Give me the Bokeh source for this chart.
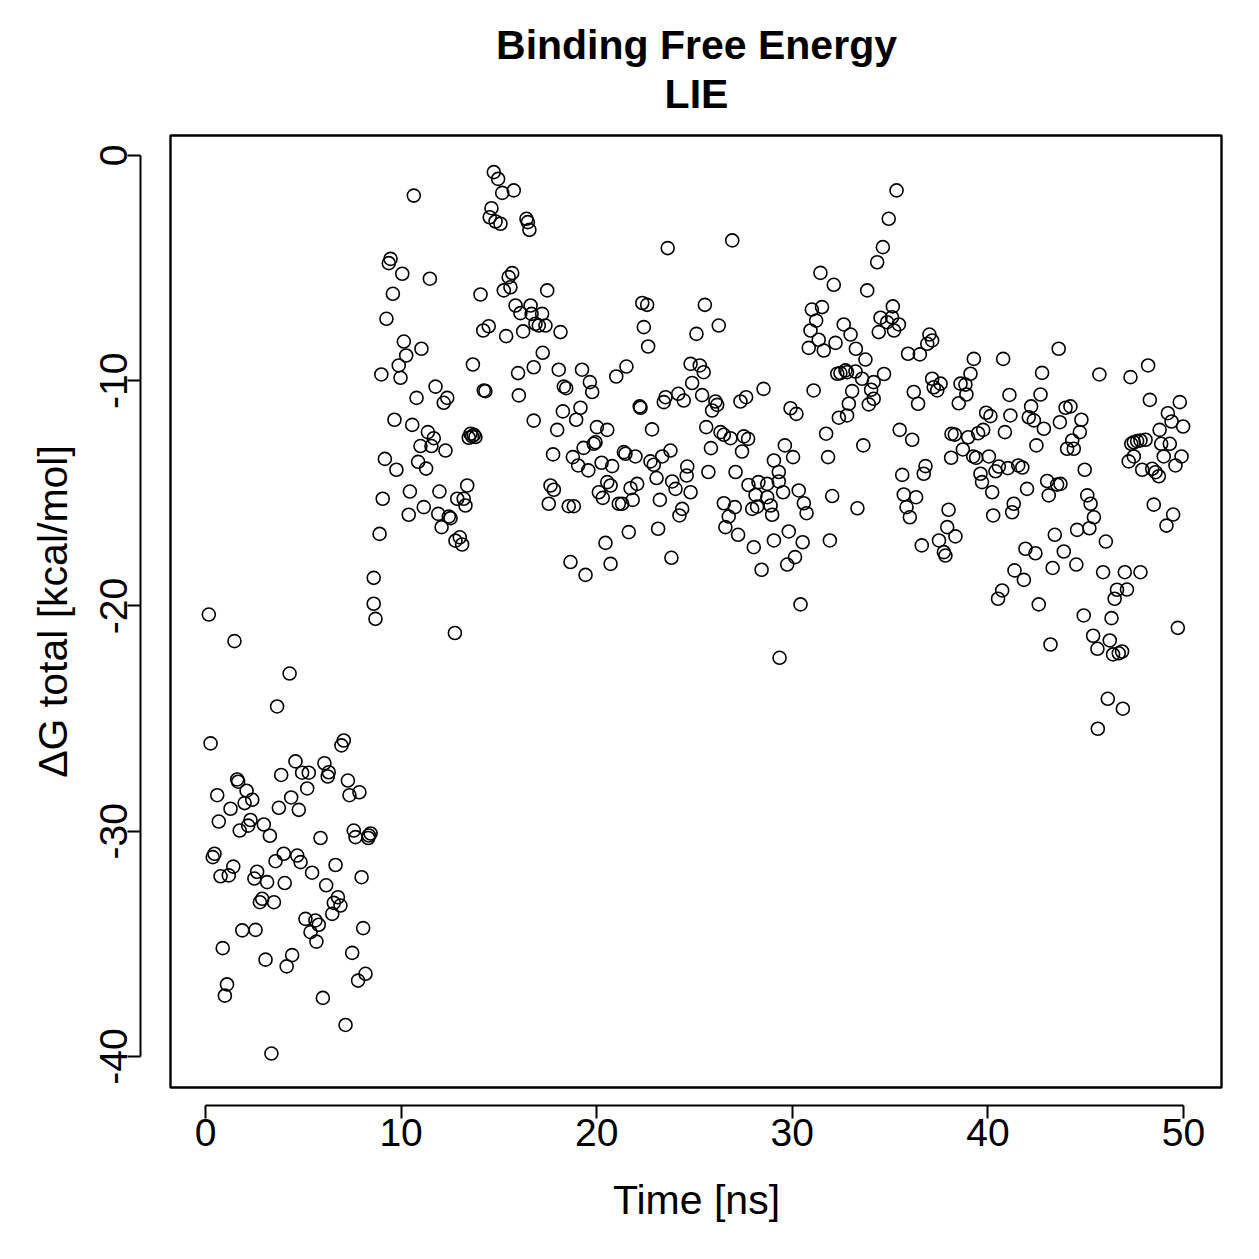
from bokeh.plotting import figure
from bokeh.models import Range1d, FixedTicker, BoxAnnotation, Title
from bokeh.embed import file_html
from bokeh.resources import INLINE

# ---- data ----
time_ns = [
    0.17, 1.48, 4.3, 3.66, 0.26, 4.6, 3.87, 1.62, 1.67, 2.1, 0.6, 2.39, 2.0, 1.28, 3.75, 4.38,
    0.68, 2.3, 2.18, 1.75, 2.98, 3.29, 0.46, 0.37, 1.42, 1.19, 0.77, 4.0, 3.58, 2.64, 2.5, 3.15,
    4.05, 2.9, 2.78, 3.5, 1.88, 2.56, 0.88, 3.07, 4.43, 4.15, 1.1, 0.99, 3.37,
    8.6, 8.6, 8.69, 7.07, 6.95, 4.94, 5.28, 6.08, 6.3, 6.25, 5.2, 7.28, 7.36, 7.87, 4.77, 5.88,
    7.58, 7.67, 8.35, 8.44, 8.32, 4.69, 4.86, 6.65, 5.45, 7.98, 6.17, 6.77, 6.9, 6.56, 6.48,
    5.11, 5.62, 5.79, 5.37, 8.06, 5.67, 7.5, 8.18, 7.8, 6.0, 7.16,
    10.65, 9.46, 9.37, 10.06, 11.47, 9.58, 9.25, 10.14, 11.04, 10.26, 9.88, 9.97, 8.99, 11.76,
    10.79, 12.36, 12.18, 9.66, 10.57, 11.37, 11.67, 10.99, 11.55, 12.27, 9.17, 9.76, 10.87,
    11.28, 9.06, 10.45, 11.96, 11.16, 10.39, 11.9, 12.44, 12.53, 12.07, 8.9, 12.75,
    14.74, 14.96, 15.17, 15.76, 14.62, 14.53, 14.83, 15.08, 16.41, 16.48, 16.56, 15.68, 15.5,
    15.59, 15.25, 14.06, 15.85, 16.1, 16.62, 16.67, 16.87, 14.2, 14.48, 15.37, 16.24, 13.67,
    15.98, 16.78, 16.02, 14.23, 14.31, 16.78, 13.55, 13.63, 13.72, 13.8, 13.46, 13.38, 12.87,
    13.2, 13.29, 13.0, 13.12, 12.78,
    17.47, 17.21, 17.04, 17.38, 18.15, 17.24, 18.06, 19.25, 19.65, 19.77, 18.32, 18.44, 18.27,
    19.17, 18.95, 17.98, 20.01, 20.54, 19.94, 19.85, 17.77, 19.33, 18.78, 19.05, 19.57, 20.25,
    20.79, 20.54, 20.71, 20.11, 20.31, 17.64, 17.81, 17.55, 18.57, 18.83, 20.45, 18.66, 19.43,
    20.71,
    23.63, 22.33, 22.58, 22.41, 22.63, 21.52, 21.0, 24.8, 24.88, 23.52, 23.43, 24.17, 24.45,
    22.2, 22.24, 22.83, 21.39, 21.47, 21.98, 22.75, 22.92, 23.35, 23.77, 24.63, 24.6, 23.06,
    23.86, 24.03, 21.73, 22.07, 24.8, 21.13, 21.3, 21.84, 23.23, 24.37, 24.23, 21.64, 23.14,
    23.82,
    26.93, 25.53, 26.24, 25.1, 25.27, 25.47, 25.39, 26.07, 26.16, 25.9, 27.35, 27.64, 28.53,
    25.6, 26.33, 26.5, 26.84, 27.52, 27.74, 27.43, 25.84, 25.71, 27.1, 29.06, 29.31, 27.76,
    28.27, 28.72, 28.12, 28.72, 27.95, 28.2, 28.89, 28.97, 26.5, 27.06, 26.75, 26.58, 27.23,
    28.03, 29.06, 28.43, 29.35,
    31.44, 32.12, 31.0, 31.52, 31.22, 30.93, 31.35, 30.84, 31.61, 32.21, 32.63, 32.98, 33.25,
    32.3, 32.46, 32.72, 32.8, 33.06, 32.89, 32.38, 32.8, 31.09, 29.91, 30.21, 31.73, 29.62,
    30.04, 31.83, 29.31, 29.53, 30.33, 30.59, 30.73, 32.04, 33.33, 29.82, 30.53, 31.92, 30.14,
    29.74, 30.42,
    35.33, 34.93, 34.63, 34.34, 33.83, 35.14, 34.51, 34.85, 35.1, 35.45, 35.2, 34.42, 37.01,
    36.9, 37.15, 35.92, 36.52, 33.74, 33.23, 33.57, 34.16, 34.03, 34.16, 33.91, 34.69, 36.21,
    36.43, 37.15, 37.23, 35.49, 36.13, 33.63, 36.81, 36.72, 35.62, 35.7, 36.33, 35.84, 36.01,
    36.62, 37.5,
    39.28, 40.78, 39.11, 37.58, 37.41, 38.6, 38.85, 38.9, 38.51, 41.1, 39.91, 40.13, 41.15,
    38.14, 38.31, 38.99, 39.5, 39.76, 40.87, 38.72, 39.25, 39.4, 40.05, 38.12, 39.62, 39.7,
    40.22, 40.56, 40.39, 41.02, 41.55, 40.27, 41.32, 41.24, 37.99, 37.92, 38.34, 37.75, 37.83,
    41.36, 40.73, 40.52,
    43.62, 42.77, 45.7, 42.69, 42.21, 42.09, 42.35, 42.86, 43.97, 44.22, 43.68, 44.78, 44.7,
    44.31, 44.05, 44.39, 42.48, 41.76, 44.95, 43.03, 43.54, 43.71, 43.11, 42.0, 45.08, 45.25,
    45.42, 44.56, 45.19, 43.42, 41.92, 42.43, 43.88, 44.52, 43.31, 41.84, 42.6, 44.9, 43.2,
    45.38, 45.6,
    47.29, 48.19, 48.28, 49.81, 49.2, 49.39, 49.98, 48.78, 47.46, 47.63, 47.8, 48.06, 47.33,
    48.86, 49.3, 47.46, 47.2, 47.89, 48.4, 48.57, 48.74, 48.99, 49.9, 49.59, 48.48, 49.47,
    49.13, 46.03, 45.89, 47.0, 47.8, 46.6, 47.11, 46.48, 46.32, 49.71, 46.23, 46.4, 46.69,
    46.86, 46.13, 46.9, 45.62,
]

dg_total = [
    -20.38, -21.56, -23.0, -24.46, -26.1, -26.9, -27.5, -27.7, -27.8, -28.2, -28.4, -28.6,
    -28.75, -29.0, -28.96, -28.5, -29.57, -29.5, -29.75, -29.97, -29.7, -30.2, -31.0, -31.15,
    -31.57, -31.96, -32.0, -31.0, -31.33, -31.8, -32.1, -32.26, -32.3, -33.0, -33.15, -33.15,
    -34.4, -34.38, -35.19, -35.7, -35.5, -36.0, -36.8, -37.3, -39.87,
    -18.75, -19.9, -20.57, -25.97, -26.19, -27.4, -27.4, -26.98, -27.38, -27.57, -28.1, -27.75,
    -28.4, -28.27, -29.05, -30.3, -29.97, -30.26, -30.19, -30.1, -30.3, -31.08, -31.37, -31.5,
    -31.84, -32.04, -32.4, -32.93, -33.3, -33.18, -33.67, -33.89, -33.96, -34.15, -34.48, -34.3,
    -34.9, -35.4, -36.33, -36.63, -37.4, -38.6,
    -1.78, -4.59, -4.78, -5.25, -5.47, -6.14, -7.25, -8.26, -8.58, -8.88, -9.32, -9.87, -9.72,
    -10.26, -10.76, -10.76, -10.98, -11.73, -11.96, -12.28, -12.55, -12.9, -12.9, -13.1, -13.47,
    -13.95, -13.6, -13.9, -15.24, -14.92, -14.92, -15.61, -15.95, -15.91, -16.03, -16.1, -16.5,
    -16.8, -21.2,
    -0.74, -1.04, -1.66, -1.55, -2.34, -2.74, -2.93, -3.03, -2.81, -2.96, -3.3, -5.22, -5.4,
    -5.85, -5.99, -6.17, -6.66, -7.0, -6.66, -7.03, -7.47, -7.77, -7.58, -8.02, -7.81, -9.28,
    -9.66, -9.4, -10.65, -10.43, -10.46, -11.77, -12.35, -12.47, -12.4, -12.5, -12.53, -14.65,
    -15.24, -15.24, -15.54, -16.95, -17.27, -17.1,
    -5.99, -7.03, -7.55, -7.55, -7.84, -8.76, -9.51, -9.51, -10.06, -10.5, -10.26, -10.33,
    -11.36, -11.2, -11.73, -12.18, -12.06, -12.18, -12.73, -12.8, -13.27, -12.98, -13.39,
    -13.76, -13.98, -13.64, -13.79, -14.5, -14.65, -14.95, -15.2, -14.65, -14.84, -15.46,
    -15.57, -15.57, -17.2, -18.05, -18.62, -18.13,
    -4.11, -6.55, -6.63, -7.62, -8.48, -9.37, -9.81, -9.25, -10.1, -10.73, -10.95, -10.58,
    -10.88, -11.14, -11.2, -12.16, -13.17, -13.24, -13.36, -13.58, -13.73, -13.36, -13.1,
    -13.81, -14.21, -14.32, -14.47, -14.8, -14.77, -14.58, -14.95, -15.46, -15.46, -15.29,
    -15.29, -15.69, -15.98, -16.72, -16.57, -17.86,
    -3.77, -6.63, -7.55, -7.92, -9.32, -9.62, -10.64, -10.92, -11.07, -11.32, -10.92, -10.73,
    -10.36, -12.06, -12.28, -12.4, -12.55, -12.47, -12.58, -13.14, -12.99, -14.05, -14.05,
    -13.54, -14.05, -14.63, -14.5, -14.58, -15.07, -15.17, -15.69, -15.59, -15.54, -15.95,
    -15.44, -15.61, -16.03, -16.5, -16.84, -17.39, -17.09, -18.39, -22.3,
    -5.21, -5.74, -6.84, -6.73, -7.33, -7.77, -8.18, -8.54, -8.66, -8.32, -7.5, -7.95, -8.58,
    -9.69, -9.66, -9.54, -9.62, -10.46, -11.02, -11.64, -11.54, -10.43, -11.22, -11.47, -12.35,
    -12.87, -13.39, -13.39, -14.47, -14.95, -14.87, -15.44, -15.88, -15.12, -15.66, -16.69,
    -17.17, -17.09, -17.83, -18.16, -19.93,
    -1.55, -2.81, -4.07, -4.74, -5.99, -6.7, -7.2, -7.4, -7.18, -7.5, -7.77, -7.84, -7.95,
    -8.36, -8.21, -8.8, -8.83, -9.06, -9.59, -9.91, -10.06, -10.4, -10.8, -11.05, -9.7, -10.5,
    -11.02, -9.91, -10.29, -12.18, -12.62, -12.87, -13.79, -14.13, -14.18, -15.05, -15.17,
    -15.61, -16.06, -17.31, -17.09,
    -9.03, -9.03, -9.69, -10.13, -10.43, -10.13, -10.17, -10.61, -11.0, -10.63, -11.42, -11.57,
    -11.54, -12.36, -12.39, -12.51, -12.33, -12.18, -12.28, -13.05, -13.36, -13.42, -13.36,
    -13.42, -14.13, -14.5, -14.95, -13.81, -14.02, -13.88, -13.76, -15.98, -15.46, -15.84,
    -15.73, -16.5, -16.91, -17.61, -17.76, -18.42, -19.31, -19.68,
    -8.58, -9.65, -9.72, -10.61, -11.14, -11.62, -11.76, -12.13, -11.2, -11.14, -11.84, -11.73,
    -12.28, -12.65, -13.02, -13.02, -12.87, -13.85, -13.95, -14.45, -14.61, -14.58, -15.09,
    -14.8, -15.09, -15.46, -16.06, -16.62, -16.55, -16.84, -17.46, -17.66, -17.58, -18.16,
    -18.31, -18.84, -19.93, -20.42, -21.71, -21.32, -21.9,
    -9.84, -9.32, -10.85, -10.95, -11.44, -11.81, -12.03, -12.18, -12.73, -12.68, -12.65,
    -12.62, -12.8, -12.8, -12.8, -13.36, -13.58, -13.95, -13.91, -14.06, -14.24, -13.36, -13.36,
    -13.76, -15.5, -15.94, -16.43, -17.14, -18.5, -18.5, -18.5, -19.28, -19.27, -19.68, -20.54,
    -20.97, -21.53, -22.15, -22.1, -22.02, -24.12, -24.56, -25.45,
]

x_ticks = [0, 10, 20, 30, 40, 50]
y_ticks = [-40, -30, -20, -10, 0]
y_tick_labels = ["-40", "-30", "-20", "-10", "0"]
title_main = "Binding Free Energy"
title_sub = "LIE"
x_label = "Time [ns]"
y_label = "\u0394G total [kcal/mol]"

FONT = "Liberation Sans"

# ---- figure geometry (pixel layout of the reference) ----
# The frame spans from the detached axes to a box symmetric about the R plot box,
# so that axis labels and titles centre on the plot box. The box itself is an annotation.
p = figure(
    width=1259, height=1259, title=None,
    x_range=Range1d(-3.323, 53.528), y_range=Range1d(-42.176, 1.687),
    min_border_left=140, min_border_right=7, min_border_top=117, min_border_bottom=154,
    output_backend="svg", toolbar_location=None,
)
p.outline_line_color = None
p.grid.visible = False
p.background_fill_color = "white"
p.border_fill_color = "white"

box = BoxAnnotation(left=-1.789, right=51.943, top=0.888, bottom=-41.376,
                    fill_alpha=0, fill_color=None, line_color="black",
                    line_alpha=1.0, line_width=2.4)
p.add_layout(box)

for ax in (p.xaxis[0], p.yaxis[0]):
    ax.axis_line_color = "black"
    ax.axis_line_width = 2
    ax.major_tick_line_color = "black"
    ax.major_tick_line_width = 2
    ax.major_tick_out = 13
    ax.major_tick_in = 0
    ax.minor_tick_line_color = None
    ax.major_label_text_font = FONT
    ax.major_label_text_font_size = "39px"
    ax.major_label_text_color = "black"
    ax.axis_label_text_font = FONT
    ax.axis_label_text_font_size = "41px"
    ax.axis_label_text_font_style = "normal"
    ax.axis_label_text_color = "black"

p.xaxis.bounds = (0, 50)
p.xaxis.ticker = FixedTicker(ticks=x_ticks)
p.xaxis.axis_label = x_label
p.xaxis.major_label_standoff = 0
p.xaxis.axis_label_standoff = 28

p.yaxis.bounds = (-40, 0)
p.yaxis.ticker = FixedTicker(ticks=y_ticks)
p.yaxis.major_label_overrides = {t: s for t, s in zip(y_ticks, y_tick_labels)}
p.yaxis.axis_label = y_label
p.yaxis.major_label_orientation = "parallel"
p.yaxis.major_label_standoff = 0
p.yaxis.axis_label_standoff = 22

p.scatter(time_ns, dg_total, marker="circle", size=13, fill_color=None,
          line_color="black", line_width=1.6)

# two-line bold title centred over the plot box (first added sits closest to the plot)
for txt, so in ((title_sub, 2), (title_main, 0)):
    p.add_layout(Title(text=txt, align="center", text_font=FONT,
                       text_font_size="41px", text_font_style="bold",
                       text_color="black", standoff=so), "above")

open("out.html", "w").write(file_html(p, INLINE))
